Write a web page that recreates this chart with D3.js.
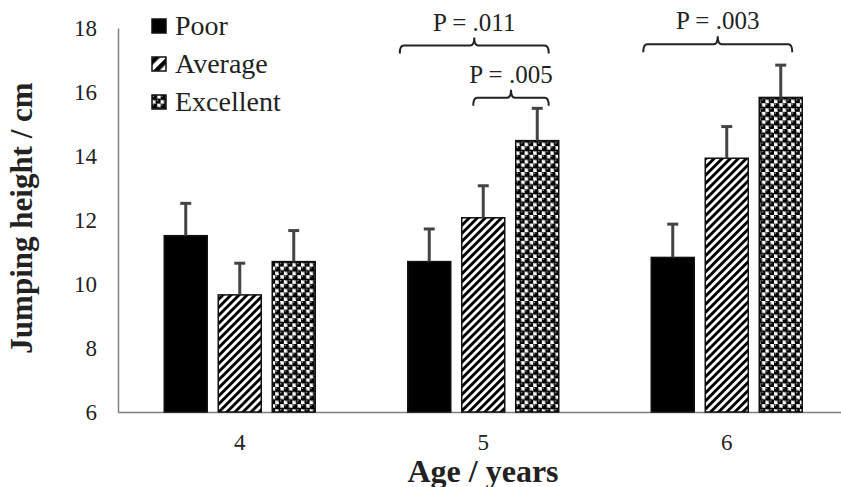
<!DOCTYPE html>
<html>
<head>
<meta charset="UTF-8">
<title>Jumping height by age</title>
<style>
  body { margin: 0; background: white; }
  svg { display: block; }
</style>
</head>
<body>
<svg></svg>
<script src="https://d3js.org/d3.v7.min.js"></script>
<script>

let width = 841, height = 487;
let serif = "'Liberation Serif', 'Times New Roman', Tinos, 'DejaVu Serif', serif";

// data
let ages = ["4", "5", "6"];
let groups = ["Poor", "Average", "Excellent"];
let poorMean = [11.51, 10.70, 10.83];
let averageMean = [9.66, 12.07, 13.93];
let excellentMean = [10.70, 14.48, 15.83];
let poorErr = [1.01, 1.02, 1.04];
let averageErr = [0.99, 1.00, 0.99];
let excellentErr = [0.97, 1.01, 1.01];
let yTicks = [6, 8, 10, 12, 14, 16, 18];

// significance brackets: age, from group, to group, label, level (cm)
let brackets = [
  { age: "5", from: "Poor", to: "Excellent", label: "P = .011", level: 17.45 },
  { age: "5", from: "Average", to: "Excellent", label: "P = .005", level: 15.82 },
  { age: "6", from: "Poor", to: "Excellent", label: "P = .003", level: 17.49 }
];

let means = [poorMean, averageMean, excellentMean];
let errs = [poorErr, averageErr, excellentErr];
let rows = [];
ages.forEach((a, i) => {
  groups.forEach((g, j) => {
    rows.push({ age: a, group: g, mean: means[j][i], err: errs[j][i] });
  });
});

let svg = d3.select("svg")
  .attr("width", width)
  .attr("height", height)
  .attr("viewBox", "0 0 " + width + " " + height)
  .style("font-family", serif);

// patterns
let defs = svg.append("defs");
let stripe = defs.append("pattern")
  .attr("id", "stripe")
  .attr("patternUnits", "userSpaceOnUse")
  .attr("width", 5.7).attr("height", 5.7)
  .attr("patternTransform", "rotate(45)");
stripe.append("rect").attr("width", 5.7).attr("height", 5.7).attr("fill", "white");
stripe.append("rect").attr("width", 2.9).attr("height", 5.7).attr("fill", "black");

// bigger stripe for the legend key
let stripeKey = defs.append("pattern")
  .attr("id", "stripeKey")
  .attr("patternUnits", "userSpaceOnUse")
  .attr("width", 9).attr("height", 9)
  .attr("patternTransform", "translate(2,0) rotate(45)");
stripeKey.append("rect").attr("width", 9).attr("height", 9).attr("fill", "white");
stripeKey.append("rect").attr("width", 4.5).attr("height", 9).attr("fill", "black");

let dots = defs.append("pattern")
  .attr("id", "dots")
  .attr("patternUnits", "userSpaceOnUse")
  .attr("width", 8.6).attr("height", 8.6);
dots.append("rect").attr("width", 8.6).attr("height", 8.6).attr("fill", "white");
[[2.15, 2.15], [6.45, 6.45]].forEach(p => {
  dots.append("circle").attr("cx", p[0]).attr("cy", p[1]).attr("r", 3.1).attr("fill", "black");
  dots.append("circle").attr("cx", p[0] - 0.9).attr("cy", p[1] - 0.9).attr("r", 0.7).attr("fill", "#ccc");
});

let fills = { "Poor": "black", "Average": "url(#stripe)", "Excellent": "url(#dots)" };
let keyFills = { "Poor": "black", "Average": "url(#stripeKey)", "Excellent": "url(#dots)" };

// scales
let x0 = d3.scaleBand().domain(ages).range([118, 848.5]);
let x1 = d3.scaleBand().domain(groups).range([0, 151]).paddingInner(0.2037);
let offset = (x0.bandwidth() - 151) / 2;
let y = d3.scaleLinear().domain([6, 18]).range([412, 28]);

let barX = d => x0(d.age) + offset + x1(d.group);
let bw = x1.bandwidth();

// axes
let yAxis = svg.append("g")
  .attr("transform", "translate(118,0)")
  .call(d3.axisLeft(y).tickValues(yTicks).tickSize(0).tickPadding(21));
yAxis.attr("font-family", null);
yAxis.select(".domain").attr("stroke", "#808080").attr("stroke-width", 1.5);
yAxis.selectAll("text").attr("font-size", 23).attr("fill", "#222");

let xAxis = svg.append("g")
  .attr("transform", "translate(0,412)")
  .call(d3.axisBottom(x0).tickSize(0).tickPadding(22));
xAxis.attr("font-family", null);
xAxis.select(".domain").attr("stroke", "#808080").attr("stroke-width", 1.5);
xAxis.selectAll("text").attr("font-size", 23).attr("fill", "#222");

// bars
svg.append("g")
  .selectAll("rect")
  .data(rows)
  .enter()
  .append("rect")
  .attr("x", d => barX(d))
  .attr("y", d => y(d.mean))
  .attr("width", bw)
  .attr("height", d => y(6) - y(d.mean))
  .attr("fill", d => fills[d.group])
  .attr("stroke", "#111")
  .attr("stroke-width", 1.5);

// error bars (upper only)
let eb = svg.append("g").attr("stroke", "#444").attr("stroke-width", 3);
eb.selectAll("line.v")
  .data(rows)
  .enter()
  .append("line")
  .attr("class", "v")
  .attr("x1", d => barX(d) + bw / 2)
  .attr("x2", d => barX(d) + bw / 2)
  .attr("y1", d => y(d.mean))
  .attr("y2", d => y(d.mean + d.err));
eb.selectAll("line.c")
  .data(rows)
  .enter()
  .append("line")
  .attr("class", "c")
  .attr("x1", d => barX(d) + bw / 2 - 5.5)
  .attr("x2", d => barX(d) + bw / 2 + 5.5)
  .attr("y1", d => y(d.mean + d.err))
  .attr("y2", d => y(d.mean + d.err));

// brackets
brackets.forEach(b => {
  let left = b.from == "Poor"
    ? barX({ age: b.age, group: b.from }) - 8
    : barX({ age: b.age, group: b.from }) + bw / 2 - 10;
  let right = barX({ age: b.age, group: b.to }) + bw - 10;
  let mid = (left + right) / 2;
  let yh = y(b.level);
  let r = 4;
  let path = "M" + left + "," + (yh + 8)
    + " Q" + left + "," + yh + " " + (left + r) + "," + yh
    + " L" + (mid - r) + "," + yh
    + " Q" + mid + "," + yh + " " + mid + "," + (yh - 8)
    + " Q" + mid + "," + yh + " " + (mid + r) + "," + yh
    + " L" + (right - r) + "," + yh
    + " Q" + right + "," + yh + " " + right + "," + (yh + 8);
  svg.append("path")
    .attr("d", path)
    .attr("fill", "none")
    .attr("stroke", "#222")
    .attr("stroke-width", 2);
  svg.append("text")
    .attr("x", mid)
    .attr("y", yh - 15)
    .attr("text-anchor", "middle")
    .attr("font-size", 25)
    .attr("fill", "#222")
    .text(b.label);
});

// legend
let legend = svg.append("g")
  .selectAll("g")
  .data(groups)
  .enter()
  .append("g")
  .attr("transform", (d, i) => "translate(152," + (19 + i * 38) + ")");
legend.append("rect")
  .attr("width", 14).attr("height", 14)
  .attr("fill", d => keyFills[d])
  .attr("stroke", "#111")
  .attr("stroke-width", 1.5);
legend.append("text")
  .attr("x", 23)
  .attr("y", 16)
  .attr("font-size", 28)
  .attr("fill", "#222")
  .text(d => d);

// axis titles
svg.append("text")
  .attr("transform", "translate(32,218) rotate(-90)")
  .attr("text-anchor", "middle")
  .attr("font-size", 31)
  .attr("font-weight", "bold")
  .attr("fill", "#222")
  .text("Jumping height / cm");

svg.append("text")
  .attr("x", 483)
  .attr("y", 482)
  .attr("text-anchor", "middle")
  .attr("font-size", 32)
  .attr("font-weight", "bold")
  .attr("fill", "#222")
  .text("Age / years");

</script>
</body>
</html>
